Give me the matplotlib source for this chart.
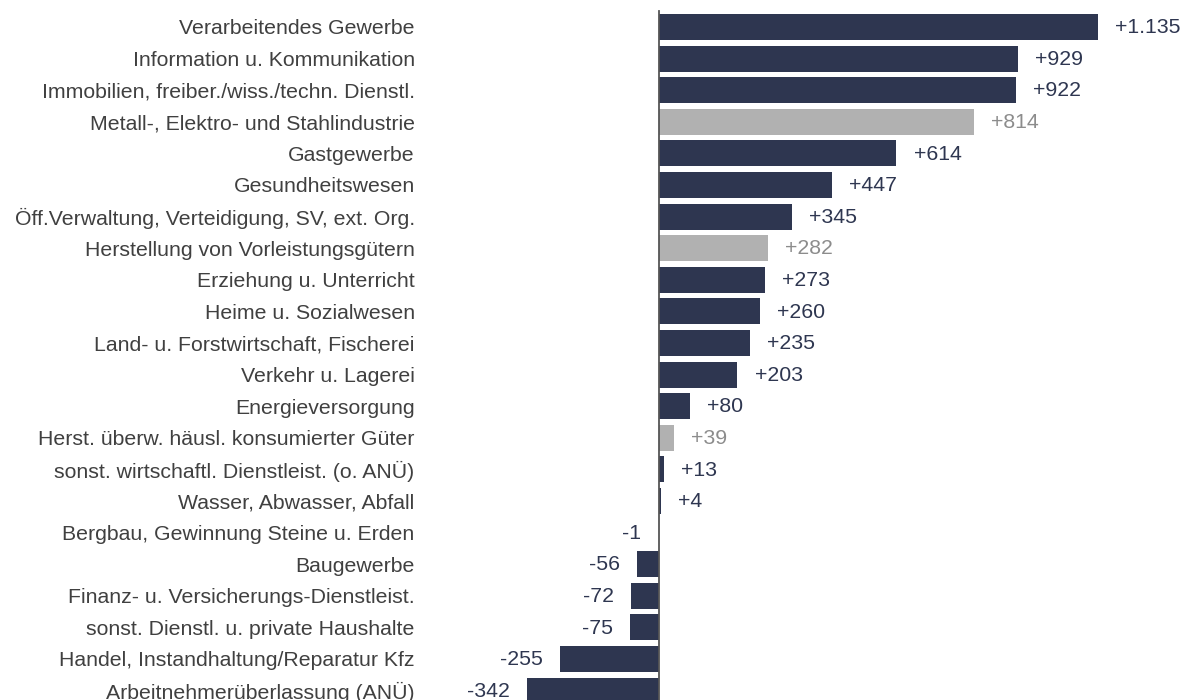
import matplotlib.pyplot as plt
import numpy as np

# =============================================================================
# Data
# =============================================================================

categories = [
    "Verarbeitendes Gewerbe",
    "Information u. Kommunikation",
    "Immobilien, freiber./wiss./techn. Dienstl.",
    "Metall-, Elektro- und Stahlindustrie",
    "Gastgewerbe",
    "Gesundheitswesen",
    "Öff.Verwaltung, Verteidigung, SV, ext. Org.",
    "Herstellung von Vorleistungsgütern",
    "Erziehung u. Unterricht",
    "Heime u. Sozialwesen",
    "Land- u. Forstwirtschaft, Fischerei",
    "Verkehr u. Lagerei",
    "Energieversorgung",
    "Herst. überw. häusl. konsumierter Güter",
    "sonst. wirtschaftl. Dienstleist. (o. ANÜ)",
    "Wasser, Abwasser, Abfall",
    "Bergbau, Gewinnung Steine u. Erden",
    "Baugewerbe",
    "Finanz- u. Versicherungs-Dienstleist.",
    "sonst. Dienstl. u. private Haushalte",
    "Handel, Instandhaltung/Reparatur Kfz",
    "Arbeitnehmerüberlassung (ANÜ)",
]
values = [1135, 929, 922, 814, 614, 447, 345, 282, 273, 260, 235, 203,
          80, 39, 13, 4, -1, -56, -72, -75, -255, -342]
# sub-sectors of manufacturing shown in grey
highlight_grey = ["Metall-, Elektro- und Stahlindustrie",
                  "Herstellung von Vorleistungsgütern",
                  "Herst. überw. häusl. konsumierter Güter"]

navy = "#2e3650"
grey_bar = "#b1b1b1"
grey_txt = "#8c8c8c"
fs = 15.3


def fmt(v):
    s = "{:,}".format(abs(v)).replace(",", ".")
    return ("+" if v > 0 else "-") + s


plt.rcParams['font.family'] = ['Liberation Sans', 'DejaVu Sans']

fig = plt.figure(figsize=(11.83, 7.0), dpi=100)
fig.set_facecolor('w')
ax = fig.add_axes([430 / 1183, 0, 1 - 430 / 1183, 1])

y = np.arange(len(categories))
colors = [grey_bar if c in highlight_grey else navy for c in categories]
ax.barh(y, values, height=0.82, color=colors)

for yi, v, c in zip(y, values, categories):
    tc = grey_txt if c in highlight_grey else navy
    if v >= 0:
        ax.annotate(fmt(v), (v, yi), xytext=(12.3, -0.5), textcoords='offset points',
                    ha='left', va='center', fontsize=fs, color=tc)
    else:
        ax.annotate(fmt(v), (v, yi), xytext=(-12.3, -0.5), textcoords='offset points',
                    ha='right', va='center', fontsize=fs, color=tc)

ax.plot([0, 0], [-0.5, 22], color='#555555', linewidth=1.3)

ax.set_xlim(-592, 1355)
ax.set_ylim(21.3, -0.854)
ax.set_yticks(y)
ax.set_yticklabels(categories, fontsize=fs, color='#404040')
ax.tick_params(axis='y', length=0, pad=11)
ax.set_xticks([])
for s in ax.spines.values():
    s.set_visible(False)

plt.savefig("out.png", dpi=100)
